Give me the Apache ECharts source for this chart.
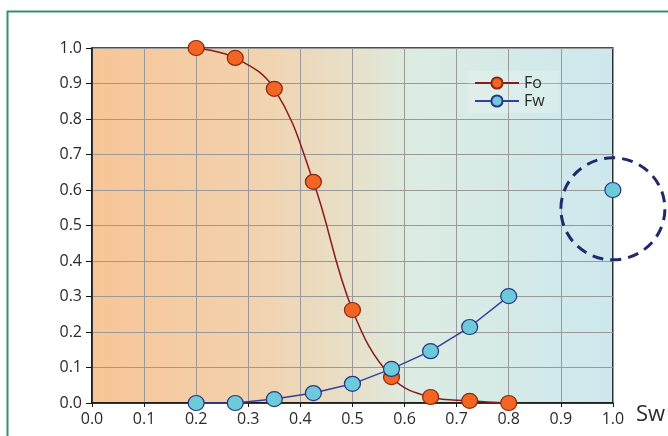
<!DOCTYPE html>
<html>
<head>
<meta charset="utf-8">
<script src="https://cdn.jsdelivr.net/npm/echarts@6/dist/echarts.min.js"></script>
<style>
  html, body { margin: 0; padding: 0; background: #ffffff; }
  #chart { width: 668px; height: 436px; }
</style>
</head>
<body>
<div id="chart"></div>
<script>
// Water saturation values where the flow fractions were evaluated
const swPoints = [0.2, 0.275, 0.35, 0.425, 0.5, 0.575, 0.65, 0.725, 0.8];
// Oil fractional flow Fo at each saturation
const foValues = [1.0, 0.972, 0.885, 0.623, 0.262, 0.073, 0.017, 0.006, 0.0];
// Water fractional flow Fw at each saturation
const fwValues = [0.0, 0.0, 0.011, 0.028, 0.054, 0.096, 0.146, 0.214, 0.301];
// Isolated Fw point at the end of the saturation range
const fwEndPoint = [1.0, 0.6];
// Centre of the highlight ring around the end point (data units)
const ringCentre = [1.0, 0.547];
// Tick labels for both axes
const tickLabels = ['0.0', '0.1', '0.2', '0.3', '0.4', '0.5', '0.6', '0.7', '0.8', '0.9', '1.0'];

const foData = swPoints.map((s, i) => [s, foValues[i]]);
// a '-' entry breaks the Fw line before the separate end point
const fwData = swPoints.map((s, i) => [s, fwValues[i]])
  .concat([[0.9, '-'], fwEndPoint]);

const labelFont = {
  color: '#2a2a2a',
  fontSize: 16,
  fontFamily: '"Open Sans", "Noto Sans", sans-serif'
};

const chart = echarts.init(document.getElementById('chart'), null, { renderer: 'canvas' });

const option = {
  animation: false,
  backgroundColor: '#ffffff',
  grid: {
    left: 92, right: 55, top: 48, bottom: 33,
    show: true,
    borderColor: '#151515',
    borderWidth: 1.5,
    backgroundColor: {
      type: 'linear', x: 0, y: 0, x2: 1, y2: 0,
      colorStops: [
        { offset: 0, color: '#f7c597' },
        { offset: 0.3, color: '#f3d1ac' },
        { offset: 0.5, color: '#e7e0c9' },
        { offset: 0.62, color: '#dcece2' },
        { offset: 1, color: '#cde8ee' }
      ]
    }
  },
  legend: {
    data: ['Fo', 'Fw'],
    left: 468, top: 71,
    orient: 'vertical',
    itemWidth: 44, itemHeight: 14, itemGap: 2,
    padding: [4, 14, 4, 6],
    backgroundColor: 'rgba(255,255,255,0.18)',
    textStyle: { color: '#2a2a2a', fontSize: 16, fontFamily: labelFont.fontFamily }
  },
  xAxis: {
    type: 'value', min: 0, max: 1, interval: 0.1,
    name: 'Sw', nameLocation: 'end', nameGap: 23,
    nameTextStyle: {
      color: '#2a2a2a', fontSize: 22, fontFamily: labelFont.fontFamily,
      verticalAlign: 'top', padding: [1, 0, 0, 0]
    },
    axisLine: { show: true, onZero: false, lineStyle: { color: '#151515', width: 1.5 } },
    axisTick: { show: true, length: 4, lineStyle: { color: '#151515' } },
    axisLabel: Object.assign({ margin: 8, formatter: v => tickLabels[Math.round(v * 10)] }, labelFont),
    splitLine: { show: true, lineStyle: { color: '#999999', width: 1 } }
  },
  yAxis: {
    type: 'value', min: 0, max: 1, interval: 0.1,
    axisLine: { show: true, onZero: false, lineStyle: { color: '#151515', width: 1.5 } },
    axisTick: { show: true, length: 6, lineStyle: { color: '#151515' } },
    axisLabel: Object.assign({ margin: 10, formatter: v => tickLabels[Math.round(v * 10)] }, labelFont),
    splitLine: { show: true, lineStyle: { color: '#999999', width: 1 } }
  },
  series: [
    {
      name: 'Fo', type: 'line', data: foData,
      smooth: 0.4, clip: false,
      symbol: 'circle', symbolSize: [16, 15],
      lineStyle: { color: '#8a1b1b', width: 1.5 },
      itemStyle: { color: '#f26522', borderColor: '#8a2a12', borderWidth: 1.2 },
      z: 3
    },
    {
      name: 'Fw', type: 'line', data: fwData,
      connectNulls: false, clip: false,
      symbol: 'circle', symbolSize: [16, 15],
      lineStyle: { color: '#34409c', width: 1.5 },
      itemStyle: { color: '#6ccad9', borderColor: '#2a3585', borderWidth: 1.2 },
      z: 4
    }
  ]
};

chart.setOption(option);

// Outer frame and dashed highlight ring, placed through the chart's own scales
const centre = chart.convertToPixel({ gridIndex: 0 }, ringCentre);
chart.setOption({
  graphic: [
    {
      type: 'rect', left: 5, top: 9, silent: true,
      shape: { width: 720, height: 480 },
      style: { fill: 'none', stroke: '#3a8e6f', lineWidth: 2 }
    },
    {
      type: 'ellipse', silent: true, z: 10,
      shape: { cx: centre[0], cy: centre[1], rx: 52, ry: 51 },
      style: { fill: 'none', stroke: '#1e2a6b', lineWidth: 3, lineDash: [11, 7] }
    }
  ]
});
</script>
</body>
</html>
